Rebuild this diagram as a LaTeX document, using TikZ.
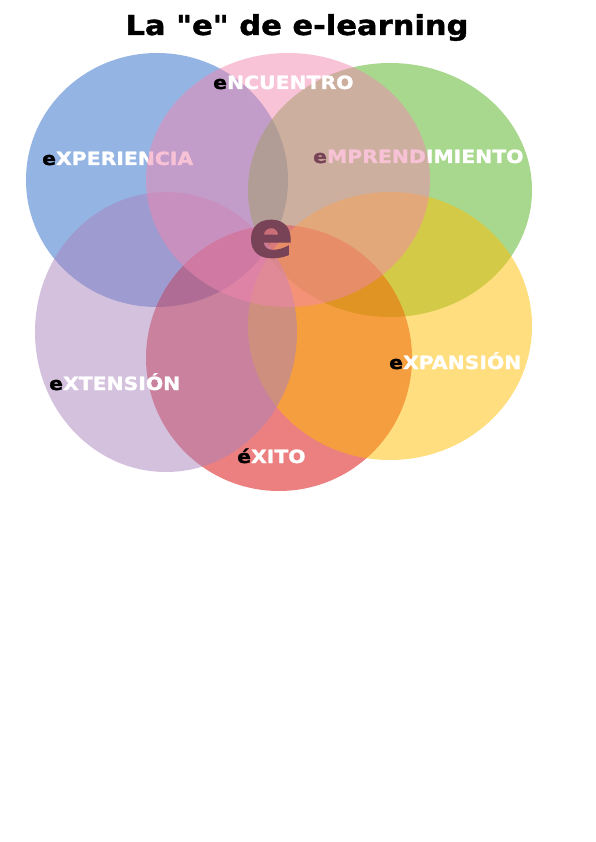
\documentclass[tikz,border=0pt]{standalone}
\usepackage{fontspec}
\setmainfont{DejaVu Sans}[BoldFeatures={FakeBold=1.3}]
\newfontfamily\titulofont{DejaVu Sans Bold}[FakeBold=1.3]
\usetikzlibrary{shapes.geometric}
\definecolor{azul}{RGB}{41,105,201}
\definecolor{rosa}{RGB}{241,135,175}
\definecolor{verde}{RGB}{81,177,29}
\definecolor{amarillo}{RGB}{255,189,1}
\definecolor{rojo}{RGB}{217,1,1}
\definecolor{morado}{RGB}{169,131,189}

\begin{document}
\begin{tikzpicture}[x=1pt,y=-1pt]
\tikzset{circulo/.style={ellipse,inner sep=0pt,outer sep=0pt,fill opacity=0.5}}
\tikzset{etiqueta/.style={anchor=base west,inner sep=0pt,xscale=1.12,font=\fontsize{18.2}{20}\selectfont\bfseries,text=white}}
\useasboundingbox (0,0) rectangle (596,842);

% Titulo
\node (titulo) at (297,35) [anchor=base,inner sep=0pt,xscale=1.11,font=\fontsize{27.5}{30}\selectfont\titulofont] {La "e" de e-learning};

% Circulos de abajo
\node (experiencia) at (157,180) [circulo,fill=azul,minimum width=262pt,minimum height=254pt] {};
\node (emprendimiento) at (390,190) [circulo,fill=verde,minimum width=284pt,minimum height=254pt] {};
\node (exito) at (279,358) [circulo,fill=rojo,minimum width=266pt,minimum height=266pt] {};
\node (expansion) at (390,326) [circulo,fill=amarillo,minimum width=284pt,minimum height=268pt] {};
\node (extension) at (166,332) [circulo,fill=morado,minimum width=262pt,minimum height=280pt] {};

% textos bajo el circulo rosa
\node (t1) at (42,165) [etiqueta] {\textcolor{black}{e}XPERIENCIA};
\node (t3) at (313,163) [etiqueta] {\textcolor{black}{e}MPRENDIMIENTO};
\node (e) at (271,239) [inner sep=0pt,font=\fontsize{66}{66}\selectfont\bfseries] {e};

% circulo rosa encima
\node (encuentro) at (288,180) [circulo,fill=rosa,minimum width=284pt,minimum height=254pt] {};

% textos encima
\node (t2) at (213,89) [etiqueta] {\textcolor{black}{e}NCUENTRO};
\node (t4) at (389,369) [etiqueta] {\textcolor{black}{e}XPANSIÓN};
\node (t5) at (237,463) [etiqueta] {\textcolor{black}{é}XITO};
\node (t6) at (49,390) [etiqueta] {\textcolor{black}{e}XTENSIÓN};

\end{tikzpicture}
\end{document}
